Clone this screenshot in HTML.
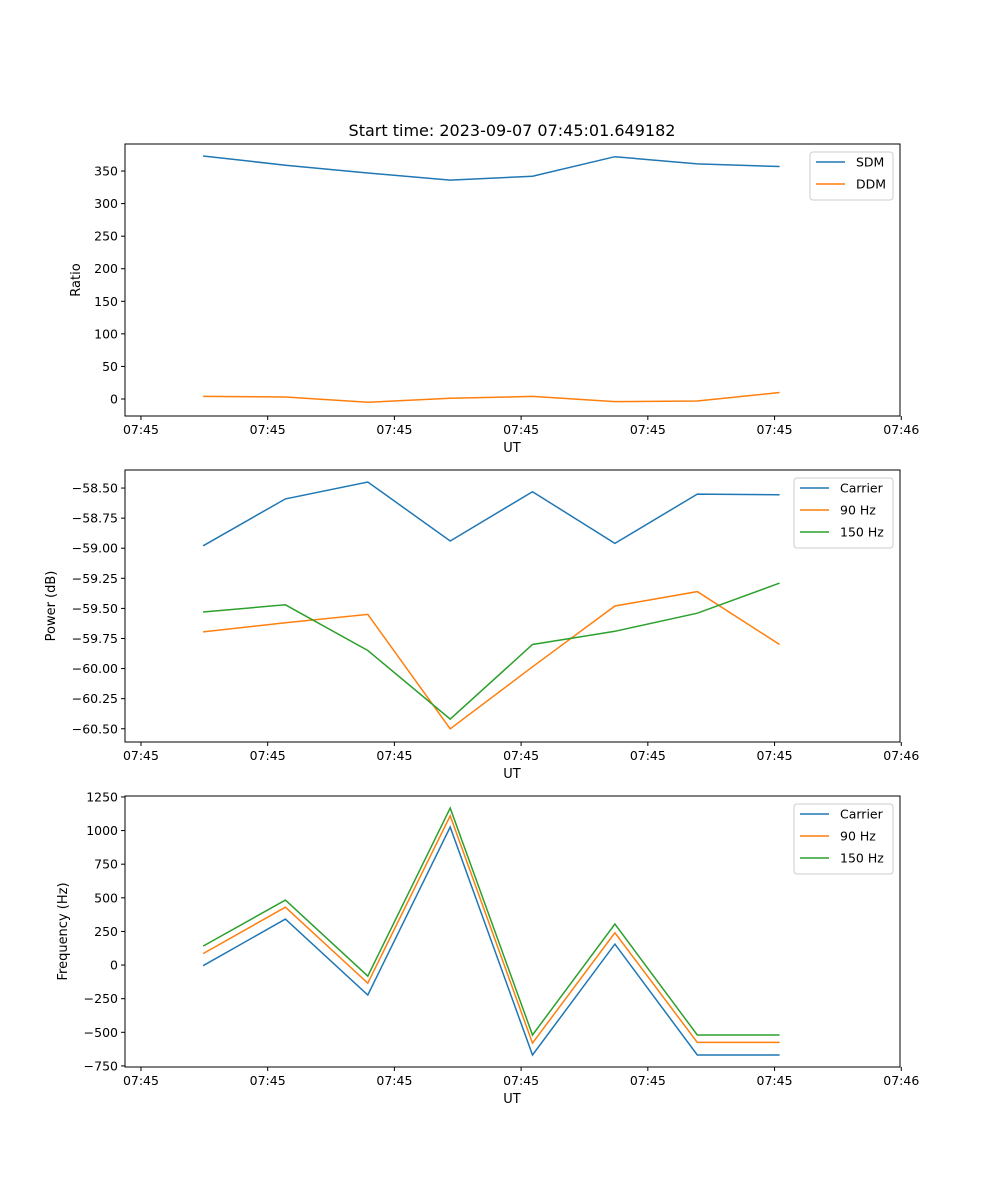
<!DOCTYPE html>
<html><head><meta charset="utf-8"><style>
body{margin:0;background:#fff}
svg{display:block;font-family:"DejaVu Sans","Liberation Sans",sans-serif}
</style></head><body>
<svg id="fig" width="1000" height="1200" viewBox="0 0 1000 1200">
<text x="512" y="136" font-size="16" text-anchor="middle">Start time: 2023-09-07 07:45:01.649182</text>
</svg>
<script>
const times = [0.49,1.14,1.79,2.44,3.09,3.74,4.39,5.04];
const xTickVals = [0,1,2,3,4,5,6];
const xTickLabels = ["07:45","07:45","07:45","07:45","07:45","07:45","07:46"];
const sdm = [373,359,347,336,342,372,361,357];
const ddm = [4,3,-5,1,4,-4,-3,10];
const pwrCarrier = [-58.98,-58.59,-58.45,-58.94,-58.53,-58.96,-58.55,-58.555];
const pwr90 = [-59.695,-59.62,-59.55,-60.5,-59.985,-59.48,-59.36,-59.80];
const pwr150 = [-59.53,-59.47,-59.85,-60.42,-59.80,-59.69,-59.54,-59.29];
const frqCarrier = [-5,342,-223,1026,-669,156,-669,-669];
const frq90 = [85,430,-135,1110,-580,240,-575,-575];
const frq150 = [141,483,-82,1167,-520,305,-520,-520];
const ratioTicks = [0,50,100,150,200,250,300,350];
const powerTicks = [-60.5,-60.25,-60,-59.75,-59.5,-59.25,-59,-58.75,-58.5];
const powerTickLabels = ["−60.50","−60.25","−60.00","−59.75","−59.50","−59.25","−59.00","−58.75","−58.50"];
const freqTicks = [-750,-500,-250,0,250,500,750,1000,1250];

const NS="http://www.w3.org/2000/svg";
const svg=document.getElementById('fig');
const C={blue:"#1f77b4",orange:"#ff7f0e",green:"#2ca02c"};
function mk(tag,attrs,parent){const e=document.createElementNS(NS,tag);for(const k in attrs)e.setAttribute(k,attrs[k]);(parent||svg).appendChild(e);return e;}
const L=125,R=900,xmin=-0.126,xmax=5.99;
const X=t=>L+(t-xmin)/(xmax-xmin)*(R-L);

function panel(name,top,bot,ymin,ymax,yTicks,yLabels,ylabel,series,legend){
  const g=mk('g',{});
  
  
  const Y=v=>bot-(v-ymin)/(ymax-ymin)*(bot-top);
  series.forEach(s=>{
    const pts=s.vals.map((v,i)=>X(times[i]).toFixed(1)+","+Y(v).toFixed(1)).join(" ");
    const pl=mk('polyline',{points:pts,fill:"none",stroke:s.color,"stroke-width":1.5},g);
    
    
  });
  mk('rect',{x:L,y:top,width:R-L,height:bot-top,fill:"none",stroke:"#000","stroke-width":1},g);
  xTickVals.forEach((t,i)=>{
    const x=X(t);
    mk('line',{x1:x,x2:x,y1:bot,y2:bot+4,stroke:"#000"},g);
    const tx=mk('text',{x:x,y:bot+18,"font-size":12.5,"text-anchor":"middle"},g);
    tx.textContent=xTickLabels[i];
    
    
  });
  const xl=mk('text',{x:512,y:bot+36,"font-size":13,"text-anchor":"middle"},g);
  xl.textContent="UT";
  
  
  yTicks.forEach((v,i)=>{
    const y=Y(v);
    mk('line',{x1:L-4,x2:L,y1:y,y2:y,stroke:"#000"},g);
    const tx=mk('text',{x:L-7,y:y+4.5,"font-size":12.5,"text-anchor":"end"},g);
    tx.textContent=yLabels[i];
    
    
  });
  const yl=mk('text',{x:0,y:0,"font-size":13,"text-anchor":"middle",transform:`translate(${legend.ylx},${(top+bot)/2}) rotate(-90)`},g);
  yl.textContent=ylabel;
  
  
  const lg=mk('g',{},g);
  
  
  const h=series.length*22+4;
  mk('rect',{x:legend.x,y:top+8,width:R-7-legend.x,height:h,rx:3,fill:"#fff",stroke:"#ccc","stroke-width":1},lg);
  series.forEach((s,i)=>{
    const y=top+18+i*22;
    mk('line',{x1:legend.x+6,x2:legend.x+35,y1:y,y2:y,stroke:s.color,"stroke-width":1.5},lg);
    const tx=mk('text',{x:legend.x+46,y:y+4.5,"font-size":12.5},lg);
    tx.textContent=s.label;
    
    
  });
}
panel('ratio',144,416,-26.1,391.5,ratioTicks,ratioTicks.map(String),"Ratio",
  [{key:'sdm',label:'SDM',vals:sdm,color:C.blue},{key:'ddm',label:'DDM',vals:ddm,color:C.orange}],{x:810,ylx:80});
panel('power',470,742,-60.61,-58.35,powerTicks,powerTickLabels,"Power (dB)",
  [{key:'carrier',label:'Carrier',vals:pwrCarrier,color:C.blue},{key:'90hz',label:'90 Hz',vals:pwr90,color:C.orange},{key:'150hz',label:'150 Hz',vals:pwr150,color:C.green}],{x:794,ylx:55});
panel('frequency',796,1067,-758,1257,freqTicks,freqTicks.map(v=>v<0?"−"+(-v):String(v)),"Frequency (Hz)",
  [{key:'carrier',label:'Carrier',vals:frqCarrier,color:C.blue},{key:'90hz',label:'90 Hz',vals:frq90,color:C.orange},{key:'150hz',label:'150 Hz',vals:frq150,color:C.green}],{x:794,ylx:67});
</script>
</body></html>
